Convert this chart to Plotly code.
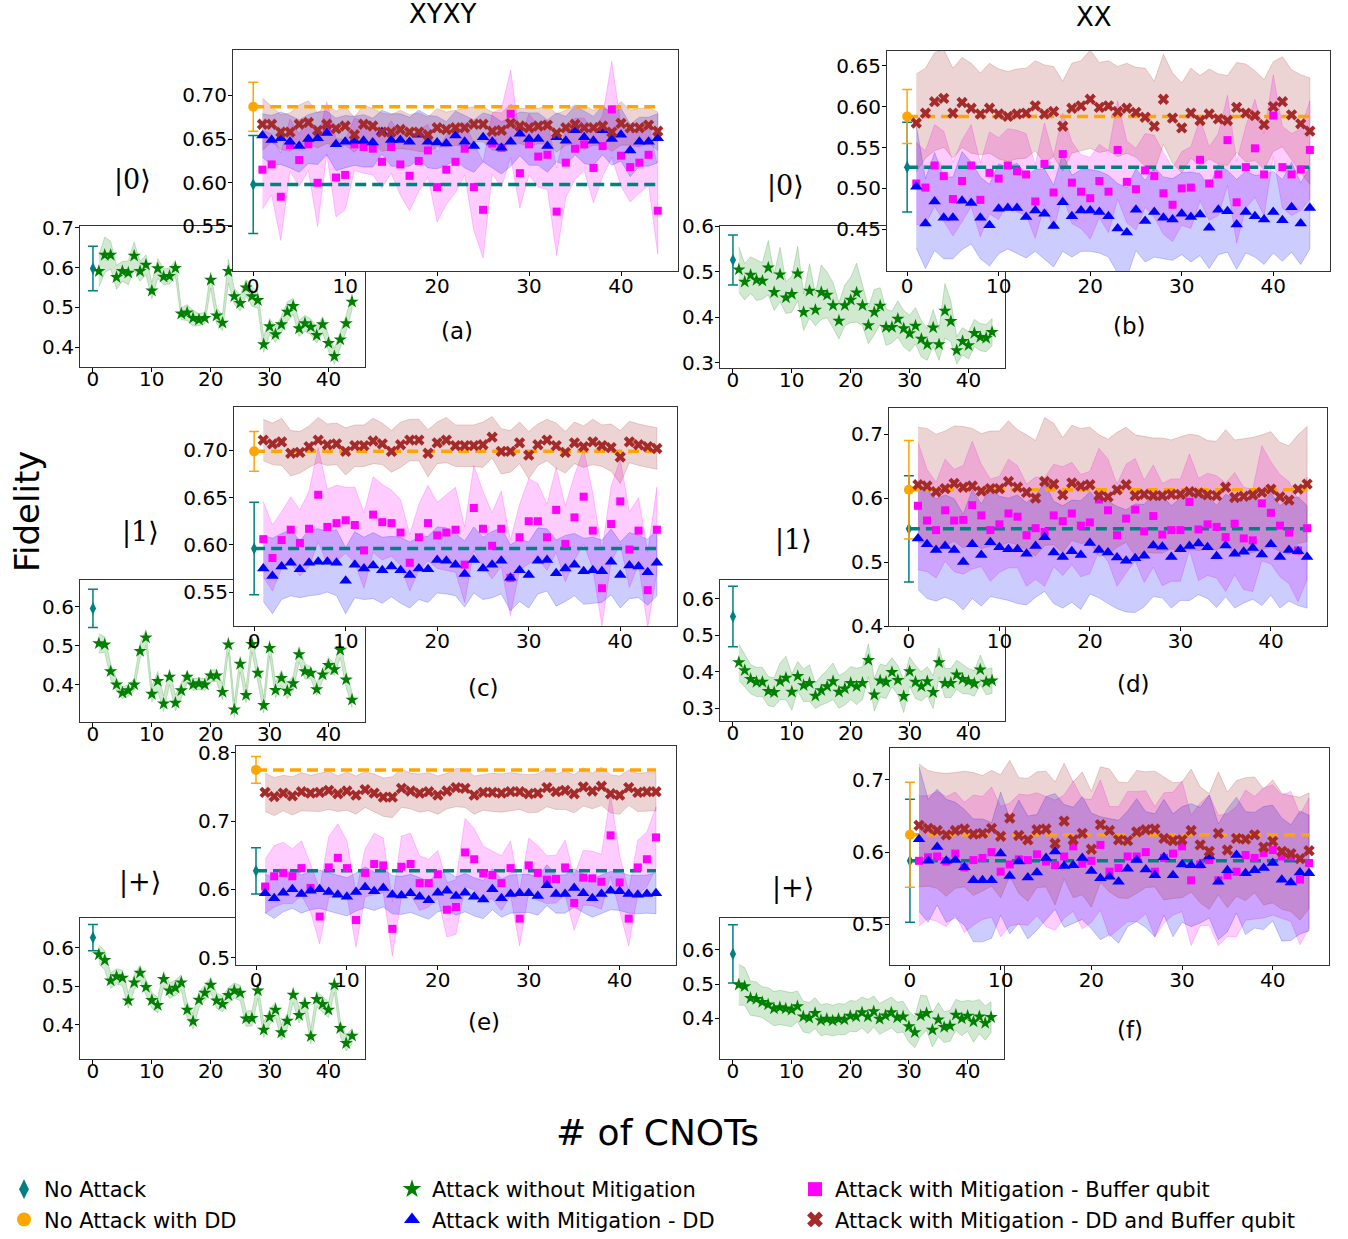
import plotly.graph_objects as go

W, H = 1348, 1239
cnots = list(range(1, 45))

# ---------------- panel (a): |0>, XYXY ----------------
a_noatk, a_noatk_err = 0.598, 0.056
a_dd, a_dd_err = 0.687, 0.028
a_green = [0.591,0.632,0.632,0.576,0.591,0.587,0.630,0.591,0.607,0.542,0.598,0.577,0.579,0.599,0.484,0.487,0.473,0.469,0.473,0.569,0.479,0.461,0.591,0.528,0.511,0.550,0.528,0.518,0.407,0.452,0.432,0.457,0.489,0.503,0.447,0.460,0.451,0.430,0.457,0.410,0.377,0.419,0.460,0.514]
a_green_std = [0.04,0.045,0.035,0.03,0.025,0.03,0.035,0.025,0.025,0.02,0.025,0.02,0.02,0.02,0.015,0.02,0.02,0.015,0.015,0.02,0.02,0.02,0.03,0.02,0.02,0.02,0.025,0.02,0.02,0.02,0.02,0.02,0.025,0.02,0.02,0.02,0.02,0.02,0.02,0.02,0.02,0.02,0.02,0.02]
a_blue = [0.654,0.649,0.651,0.647,0.642,0.650,0.651,0.657,0.644,0.647,0.648,0.648,0.646,0.658,0.649,0.649,0.647,0.655,0.647,0.646,0.645,0.654,0.647,0.642,0.652,0.647,0.640,0.647,0.656,0.650,0.650,0.642,0.652,0.648,0.660,0.652,0.648,0.660,0.650,0.655,0.637,0.647,0.647,0.651]
a_blue_std = [0.025,0.028,0.03,0.03,0.03,0.028,0.03,0.025,0.03,0.03,0.028,0.03,0.028,0.025,0.03,0.03,0.028,0.028,0.03,0.03,0.025,0.028,0.03,0.03,0.028,0.03,0.03,0.028,0.025,0.03,0.03,0.03,0.028,0.028,0.028,0.03,0.028,0.028,0.03,0.03,0.03,0.028,0.028,0.028]
a_mag = [0.615,0.621,0.584,0.643,0.626,0.644,0.600,0.663,0.606,0.609,0.644,0.641,0.639,0.624,0.641,0.621,0.608,0.625,0.637,0.595,0.615,0.624,0.639,0.595,0.569,0.645,0.640,0.679,0.611,0.644,0.630,0.632,0.567,0.623,0.639,0.644,0.617,0.642,0.684,0.631,0.618,0.623,0.632,0.568]
a_mag_std = [0.045,0.035,0.05,0.03,0.03,0.03,0.05,0.03,0.045,0.04,0.03,0.03,0.03,0.03,0.03,0.035,0.04,0.035,0.03,0.04,0.04,0.035,0.03,0.05,0.055,0.035,0.045,0.05,0.04,0.035,0.035,0.04,0.05,0.04,0.035,0.03,0.04,0.035,0.055,0.035,0.04,0.035,0.035,0.05]
a_brown = [0.667,0.667,0.658,0.658,0.667,0.669,0.660,0.667,0.662,0.665,0.655,0.667,0.665,0.658,0.658,0.661,0.658,0.658,0.655,0.663,0.661,0.663,0.663,0.667,0.667,0.659,0.660,0.668,0.665,0.663,0.665,0.666,0.657,0.663,0.667,0.663,0.663,0.665,0.658,0.668,0.663,0.663,0.666,0.659]
a_brown_std = [0.03,0.02,0.02,0.022,0.022,0.025,0.02,0.022,0.02,0.022,0.02,0.022,0.02,0.022,0.02,0.022,0.02,0.022,0.02,0.022,0.02,0.02,0.022,0.02,0.02,0.022,0.02,0.022,0.02,0.022,0.02,0.022,0.022,0.02,0.022,0.025,0.02,0.022,0.022,0.025,0.02,0.022,0.02,0.022]

# ---------------- panel (b): |0>, XX ----------------
b_noatk, b_noatk_err = 0.526, 0.055
b_dd, b_dd_err = 0.588, 0.033
b_green = [0.505,0.478,0.493,0.482,0.480,0.509,0.455,0.494,0.443,0.451,0.496,0.411,0.458,0.416,0.455,0.449,0.426,0.392,0.426,0.438,0.454,0.426,0.382,0.411,0.425,0.378,0.378,0.396,0.375,0.364,0.381,0.352,0.340,0.377,0.340,0.414,0.391,0.327,0.347,0.338,0.365,0.356,0.354,0.367]
b_green_std = [0.05,0.04,0.04,0.045,0.04,0.06,0.04,0.06,0.035,0.04,0.06,0.04,0.06,0.035,0.06,0.05,0.05,0.04,0.045,0.05,0.065,0.045,0.04,0.05,0.04,0.04,0.035,0.04,0.04,0.04,0.04,0.04,0.035,0.04,0.035,0.06,0.045,0.03,0.03,0.03,0.03,0.03,0.03,0.03]
b_blue = [0.502,0.457,0.484,0.464,0.464,0.485,0.482,0.464,0.455,0.475,0.476,0.476,0.465,0.473,0.469,0.454,0.483,0.466,0.473,0.473,0.471,0.466,0.451,0.446,0.474,0.460,0.471,0.464,0.462,0.469,0.465,0.468,0.452,0.474,0.472,0.456,0.471,0.466,0.462,0.471,0.461,0.477,0.457,0.476]
b_blue_std = [0.075,0.055,0.06,0.05,0.05,0.06,0.05,0.05,0.05,0.055,0.05,0.055,0.05,0.05,0.055,0.05,0.06,0.05,0.05,0.05,0.05,0.05,0.055,0.055,0.05,0.05,0.055,0.05,0.05,0.05,0.055,0.05,0.05,0.055,0.05,0.055,0.05,0.05,0.055,0.05,0.05,0.055,0.05,0.05]
b_mag = [0.506,0.501,0.528,0.515,0.487,0.509,0.528,0.486,0.519,0.512,0.528,0.521,0.517,0.484,0.530,0.495,0.542,0.507,0.496,0.488,0.509,0.496,0.547,0.508,0.499,0.522,0.515,0.494,0.480,0.500,0.501,0.535,0.506,0.517,0.559,0.483,0.526,0.549,0.517,0.589,0.526,0.517,0.523,0.547]
b_mag_std = [0.05,0.045,0.05,0.055,0.045,0.05,0.05,0.045,0.05,0.05,0.045,0.05,0.05,0.045,0.05,0.045,0.05,0.05,0.045,0.05,0.045,0.05,0.06,0.05,0.05,0.045,0.05,0.05,0.045,0.045,0.05,0.05,0.045,0.05,0.055,0.05,0.05,0.06,0.05,0.05,0.05,0.05,0.05,0.06]
b_brown = [0.580,0.592,0.606,0.610,0.592,0.605,0.598,0.591,0.598,0.591,0.588,0.591,0.592,0.601,0.591,0.594,0.576,0.598,0.601,0.609,0.599,0.601,0.594,0.598,0.593,0.587,0.576,0.609,0.586,0.574,0.592,0.583,0.591,0.585,0.583,0.599,0.592,0.589,0.578,0.600,0.606,0.590,0.579,0.570]
b_brown_std = [0.06,0.055,0.06,0.06,0.055,0.055,0.055,0.05,0.055,0.055,0.055,0.055,0.055,0.055,0.06,0.055,0.055,0.055,0.055,0.06,0.055,0.055,0.055,0.055,0.055,0.06,0.055,0.055,0.055,0.055,0.055,0.055,0.055,0.055,0.055,0.055,0.06,0.055,0.055,0.055,0.055,0.055,0.06,0.065]

# ---------------- panel (c): |1>, XYXY ----------------
c_noatk, c_noatk_err = 0.596, 0.049
c_dd, c_dd_err = 0.699, 0.021
c_green = [0.506,0.503,0.434,0.400,0.379,0.385,0.400,0.486,0.521,0.376,0.409,0.351,0.420,0.353,0.385,0.420,0.400,0.403,0.400,0.423,0.423,0.381,0.503,0.336,0.453,0.373,0.504,0.430,0.347,0.494,0.386,0.417,0.384,0.403,0.478,0.434,0.430,0.388,0.426,0.450,0.439,0.489,0.413,0.361]
c_green_std = [0.025,0.02,0.02,0.015,0.015,0.015,0.015,0.02,0.02,0.02,0.025,0.02,0.02,0.02,0.02,0.015,0.015,0.015,0.015,0.015,0.015,0.02,0.02,0.02,0.02,0.02,0.02,0.02,0.02,0.02,0.02,0.02,0.02,0.02,0.02,0.02,0.015,0.015,0.015,0.02,0.015,0.02,0.02,0.02]
c_blue = [0.575,0.567,0.577,0.581,0.574,0.581,0.582,0.582,0.581,0.562,0.579,0.575,0.578,0.573,0.577,0.573,0.568,0.575,0.574,0.584,0.583,0.579,0.569,0.584,0.575,0.579,0.583,0.565,0.573,0.568,0.583,0.584,0.570,0.575,0.579,0.572,0.573,0.572,0.582,0.568,0.578,0.577,0.571,0.581]
c_blue_std = [0.035,0.04,0.035,0.035,0.03,0.035,0.035,0.032,0.035,0.035,0.035,0.033,0.035,0.035,0.032,0.035,0.035,0.033,0.035,0.035,0.035,0.033,0.035,0.035,0.033,0.035,0.035,0.035,0.033,0.035,0.035,0.033,0.035,0.035,0.033,0.035,0.035,0.033,0.035,0.035,0.035,0.033,0.035,0.035]
c_mag = [0.606,0.586,0.605,0.616,0.602,0.617,0.653,0.619,0.623,0.626,0.621,0.594,0.632,0.624,0.623,0.613,0.581,0.608,0.623,0.610,0.613,0.616,0.579,0.639,0.617,0.599,0.617,0.565,0.608,0.625,0.625,0.608,0.637,0.601,0.629,0.651,0.615,0.554,0.622,0.646,0.595,0.615,0.552,0.616]
c_mag_std = [0.04,0.035,0.03,0.035,0.035,0.04,0.05,0.04,0.04,0.035,0.04,0.04,0.04,0.04,0.035,0.035,0.03,0.035,0.04,0.035,0.04,0.045,0.04,0.045,0.04,0.035,0.04,0.04,0.035,0.045,0.04,0.035,0.045,0.04,0.045,0.05,0.04,0.04,0.04,0.045,0.04,0.035,0.04,0.045]
c_brown = [0.711,0.707,0.709,0.697,0.698,0.704,0.711,0.706,0.707,0.699,0.705,0.705,0.710,0.707,0.699,0.706,0.711,0.711,0.697,0.708,0.711,0.705,0.705,0.705,0.706,0.714,0.699,0.699,0.708,0.695,0.706,0.711,0.705,0.698,0.708,0.704,0.709,0.705,0.703,0.693,0.709,0.706,0.704,0.702]
c_brown_std = [0.022,0.022,0.025,0.024,0.022,0.022,0.024,0.022,0.022,0.025,0.022,0.022,0.024,0.022,0.022,0.024,0.022,0.022,0.025,0.022,0.024,0.022,0.022,0.022,0.024,0.022,0.024,0.022,0.022,0.025,0.022,0.022,0.024,0.022,0.022,0.022,0.024,0.022,0.025,0.028,0.022,0.022,0.022,0.022]

# ---------------- panel (d): |1>, XX ----------------
d_noatk, d_noatk_err = 0.552, 0.083
d_dd, d_dd_err = 0.613, 0.077
d_green = [0.426,0.404,0.380,0.372,0.372,0.347,0.344,0.374,0.383,0.345,0.388,0.363,0.369,0.334,0.349,0.360,0.374,0.345,0.354,0.369,0.360,0.369,0.432,0.337,0.376,0.372,0.399,0.377,0.333,0.401,0.372,0.360,0.374,0.344,0.426,0.369,0.369,0.392,0.380,0.374,0.368,0.406,0.372,0.376]
d_green_std = [0.05,0.045,0.04,0.04,0.04,0.04,0.04,0.05,0.06,0.05,0.04,0.045,0.05,0.035,0.04,0.045,0.05,0.045,0.045,0.045,0.05,0.045,0.045,0.045,0.045,0.045,0.04,0.04,0.045,0.04,0.045,0.04,0.04,0.045,0.04,0.04,0.04,0.04,0.04,0.035,0.035,0.04,0.035,0.035]
d_blue = [0.537,0.528,0.519,0.525,0.519,0.500,0.528,0.511,0.531,0.523,0.520,0.520,0.513,0.525,0.539,0.515,0.508,0.517,0.511,0.530,0.519,0.515,0.507,0.502,0.506,0.510,0.526,0.524,0.508,0.520,0.525,0.529,0.523,0.509,0.526,0.513,0.516,0.522,0.512,0.528,0.508,0.519,0.517,0.508]
d_blue_std = [0.08,0.085,0.08,0.08,0.08,0.075,0.085,0.08,0.085,0.08,0.08,0.085,0.08,0.08,0.085,0.08,0.08,0.08,0.085,0.08,0.075,0.08,0.08,0.08,0.085,0.08,0.08,0.08,0.08,0.08,0.085,0.08,0.08,0.08,0.08,0.085,0.08,0.08,0.08,0.08,0.08,0.08,0.085,0.08]
d_mag = [0.588,0.565,0.550,0.581,0.565,0.566,0.589,0.573,0.550,0.559,0.576,0.571,0.542,0.553,0.547,0.573,0.564,0.576,0.557,0.562,0.598,0.581,0.542,0.568,0.582,0.548,0.572,0.543,0.550,0.550,0.594,0.551,0.559,0.555,0.539,0.560,0.537,0.534,0.592,0.577,0.557,0.546,0.518,0.553]
d_mag_std = [0.1,0.08,0.075,0.08,0.08,0.085,0.1,0.08,0.08,0.075,0.085,0.08,0.08,0.08,0.085,0.08,0.085,0.08,0.08,0.08,0.08,0.08,0.08,0.085,0.08,0.08,0.08,0.08,0.08,0.08,0.075,0.08,0.08,0.08,0.085,0.08,0.08,0.08,0.09,0.08,0.08,0.08,0.08,0.08]
d_brown = [0.621,0.619,0.610,0.615,0.623,0.617,0.619,0.611,0.615,0.615,0.626,0.617,0.609,0.600,0.626,0.622,0.605,0.624,0.619,0.621,0.604,0.602,0.613,0.621,0.604,0.606,0.604,0.604,0.606,0.606,0.610,0.608,0.605,0.604,0.617,0.601,0.603,0.605,0.609,0.614,0.602,0.597,0.614,0.622]
d_brown_std = [0.09,0.09,0.09,0.09,0.09,0.095,0.09,0.09,0.09,0.09,0.095,0.09,0.09,0.09,0.1,0.095,0.09,0.09,0.09,0.09,0.095,0.09,0.09,0.09,0.095,0.09,0.09,0.09,0.085,0.09,0.09,0.09,0.085,0.085,0.09,0.09,0.09,0.09,0.09,0.09,0.085,0.085,0.085,0.09]

# ---------------- panel (e): |+>, XYXY ----------------
e_noatk, e_noatk_err = 0.627, 0.034
e_dd, e_dd_err = 0.775, 0.0195
e_green = [0.583,0.568,0.515,0.526,0.522,0.463,0.510,0.535,0.498,0.464,0.451,0.519,0.489,0.496,0.510,0.439,0.409,0.465,0.483,0.504,0.463,0.454,0.477,0.489,0.483,0.416,0.417,0.489,0.387,0.420,0.439,0.380,0.410,0.478,0.425,0.454,0.370,0.467,0.454,0.439,0.504,0.391,0.352,0.371]
e_green_std = [0.025,0.025,0.02,0.02,0.02,0.02,0.02,0.02,0.02,0.02,0.02,0.02,0.02,0.02,0.02,0.02,0.02,0.02,0.02,0.02,0.02,0.02,0.02,0.02,0.02,0.02,0.02,0.02,0.02,0.02,0.02,0.02,0.02,0.02,0.02,0.02,0.02,0.02,0.02,0.02,0.02,0.02,0.02,0.02]
e_blue = [0.594,0.587,0.595,0.600,0.593,0.598,0.600,0.596,0.592,0.589,0.596,0.603,0.597,0.602,0.592,0.591,0.594,0.589,0.584,0.595,0.598,0.590,0.595,0.589,0.585,0.600,0.587,0.593,0.594,0.594,0.590,0.606,0.593,0.593,0.602,0.594,0.587,0.593,0.598,0.597,0.593,0.592,0.593,0.594]
e_blue_std = [0.028,0.03,0.028,0.028,0.028,0.028,0.028,0.028,0.028,0.028,0.028,0.03,0.028,0.028,0.028,0.028,0.028,0.028,0.028,0.028,0.028,0.028,0.028,0.028,0.028,0.03,0.028,0.028,0.028,0.028,0.028,0.03,0.028,0.028,0.028,0.028,0.028,0.028,0.028,0.028,0.028,0.028,0.028,0.03]
e_mag = [0.604,0.619,0.624,0.619,0.631,0.602,0.560,0.632,0.646,0.631,0.555,0.624,0.637,0.635,0.542,0.633,0.637,0.609,0.609,0.622,0.570,0.574,0.654,0.644,0.623,0.621,0.609,0.631,0.557,0.635,0.624,0.614,0.615,0.632,0.580,0.617,0.616,0.611,0.679,0.610,0.557,0.632,0.644,0.676]
e_mag_std = [0.04,0.045,0.045,0.04,0.04,0.035,0.04,0.045,0.05,0.04,0.04,0.035,0.045,0.04,0.04,0.045,0.045,0.04,0.035,0.035,0.04,0.04,0.05,0.045,0.04,0.035,0.04,0.04,0.04,0.04,0.04,0.035,0.035,0.04,0.04,0.04,0.04,0.04,0.06,0.04,0.04,0.04,0.04,0.045]
e_brown = [0.742,0.736,0.741,0.737,0.743,0.741,0.742,0.745,0.740,0.744,0.738,0.746,0.741,0.735,0.735,0.748,0.744,0.741,0.743,0.738,0.744,0.749,0.748,0.738,0.742,0.742,0.741,0.743,0.743,0.740,0.741,0.749,0.743,0.745,0.740,0.750,0.744,0.751,0.740,0.738,0.749,0.742,0.743,0.743]
e_brown_std = [0.028,0.028,0.026,0.028,0.028,0.026,0.028,0.028,0.026,0.028,0.028,0.026,0.028,0.028,0.03,0.028,0.026,0.028,0.028,0.028,0.026,0.028,0.028,0.028,0.026,0.028,0.028,0.028,0.026,0.028,0.028,0.028,0.026,0.028,0.028,0.028,0.026,0.028,0.028,0.028,0.026,0.028,0.028,0.028]

# ---------------- panel (f): |+>, XX ----------------
f_noatk, f_noatk_err = 0.588, 0.085
f_dd, f_dd_err = 0.624, 0.0725
f_green = [0.498,0.493,0.459,0.456,0.447,0.440,0.428,0.432,0.428,0.425,0.435,0.405,0.401,0.415,0.394,0.398,0.393,0.398,0.396,0.407,0.405,0.417,0.405,0.420,0.398,0.408,0.417,0.402,0.405,0.376,0.359,0.408,0.415,0.366,0.396,0.374,0.378,0.410,0.399,0.407,0.390,0.405,0.386,0.403]
f_green_std = [0.06,0.055,0.05,0.05,0.045,0.05,0.05,0.05,0.05,0.05,0.045,0.045,0.045,0.045,0.045,0.045,0.045,0.045,0.045,0.045,0.045,0.045,0.05,0.045,0.045,0.045,0.045,0.045,0.045,0.045,0.045,0.06,0.05,0.05,0.05,0.045,0.045,0.045,0.05,0.045,0.06,0.05,0.05,0.045]
f_blue = [0.618,0.588,0.607,0.588,0.589,0.579,0.561,0.561,0.561,0.598,0.567,0.587,0.565,0.572,0.592,0.601,0.581,0.582,0.592,0.574,0.564,0.566,0.559,0.577,0.589,0.576,0.568,0.593,0.568,0.583,0.582,0.582,0.594,0.559,0.575,0.596,0.571,0.575,0.578,0.585,0.562,0.558,0.572,0.571]
f_blue_std = [0.1,0.085,0.08,0.085,0.08,0.08,0.085,0.085,0.08,0.085,0.08,0.085,0.085,0.08,0.085,0.08,0.085,0.08,0.085,0.08,0.085,0.08,0.085,0.08,0.085,0.08,0.085,0.08,0.085,0.08,0.085,0.08,0.085,0.08,0.085,0.08,0.085,0.08,0.085,0.08,0.085,0.08,0.085,0.08]
f_mag = [0.588,0.593,0.594,0.587,0.598,0.579,0.589,0.592,0.600,0.573,0.583,0.590,0.589,0.597,0.587,0.582,0.594,0.608,0.584,0.588,0.610,0.573,0.578,0.594,0.594,0.600,0.573,0.592,0.598,0.608,0.561,0.583,0.589,0.561,0.568,0.573,0.596,0.592,0.599,0.603,0.594,0.594,0.562,0.585]
f_mag_std = [0.09,0.085,0.09,0.09,0.085,0.09,0.09,0.085,0.09,0.09,0.085,0.09,0.09,0.085,0.09,0.09,0.085,0.09,0.09,0.085,0.09,0.09,0.085,0.09,0.09,0.085,0.09,0.09,0.085,0.09,0.09,0.085,0.09,0.09,0.085,0.09,0.09,0.085,0.09,0.09,0.085,0.09,0.09,0.09]
f_brown = [0.637,0.633,0.630,0.624,0.630,0.632,0.625,0.626,0.633,0.622,0.647,0.623,0.617,0.631,0.632,0.612,0.643,0.617,0.626,0.604,0.638,0.630,0.617,0.616,0.628,0.631,0.632,0.619,0.616,0.617,0.630,0.610,0.601,0.626,0.603,0.619,0.618,0.624,0.607,0.615,0.601,0.598,0.591,0.602]
f_brown_std = [0.085,0.08,0.08,0.085,0.08,0.08,0.085,0.08,0.08,0.085,0.08,0.08,0.085,0.08,0.08,0.085,0.08,0.08,0.085,0.08,0.08,0.085,0.08,0.08,0.085,0.08,0.08,0.085,0.08,0.08,0.085,0.08,0.08,0.085,0.08,0.08,0.085,0.08,0.08,0.085,0.08,0.08,0.085,0.08]

# y ticks of each axis
a_small_ticks, a_big_ticks = [0.4, 0.5, 0.6, 0.7], [0.55, 0.60, 0.65, 0.70]
b_small_ticks, b_big_ticks = [0.3, 0.4, 0.5, 0.6], [0.45, 0.50, 0.55, 0.60, 0.65]
c_small_ticks, c_big_ticks = [0.4, 0.5, 0.6], [0.55, 0.60, 0.65, 0.70]
d_small_ticks, d_big_ticks = [0.3, 0.4, 0.5, 0.6], [0.4, 0.5, 0.6, 0.7]
e_small_ticks, e_big_ticks = [0.4, 0.5, 0.6], [0.5, 0.6, 0.7, 0.8]
f_small_ticks, f_big_ticks = [0.4, 0.5, 0.6], [0.5, 0.6, 0.7]
x_ticks = [0, 10, 20, 30, 40]

panel_labels = ["(a)", "(b)", "(c)", "(d)", "(e)", "(f)"]
ket_labels = ["|0⟩", "|0⟩", "|1⟩", "|1⟩", "|+⟩", "|+⟩"]
col_titles = ["XYXY", "XX"]

legend_names = ["No Attack", "No Attack with DD",
                "Attack without Mitigation", "Attack with Mitigation - DD",
                "Attack with Mitigation - Buffer qubit", "Attack with Mitigation - DD and Buffer qubit"]

# ---------------- styling / layout (pixels) ----------------
TEAL, ORANGE, GREEN, BLUE, MAG, BROWN = "#008080", "#ffa500", "#008000", "#0000ff", "#ff00ff", "#a52a2a"
BANDS = {GREEN: "rgba(0,128,0,0.18)", BLUE: "rgba(0,0,255,0.2)", MAG: "rgba(255,0,255,0.2)", BROWN: "rgba(165,42,42,0.2)"}
EDGES = {GREEN: "rgba(0,128,0,0.25)", BLUE: "rgba(0,0,255,0.25)", MAG: "rgba(255,0,255,0.25)", BROWN: "rgba(165,42,42,0.25)"}
FONT = "DejaVu Sans"

# (left, top, right, bottom) pixel boxes and y ranges
layout_spec = [
    dict(small=(80, 226, 365, 367), srange=(0.35, 0.705), big=(233, 50, 678, 271), brange=(0.499, 0.752),
         ylab=".1f", bylab=".2f", label=(457, 331), ket=(132, 180)),
    dict(small=(720, 226, 1005, 368), srange=(0.288, 0.601), big=(887, 51, 1330, 271), brange=(0.399, 0.668),
         ylab=".1f", bylab=".2f", label=(1129, 326), ket=(785, 186)),
    dict(small=(80, 580, 365, 722), srange=(0.304, 0.669), big=(234, 407, 677, 626), brange=(0.514, 0.746),
         ylab=".1f", bylab=".2f", label=(483, 688), ket=(140, 532)),
    dict(small=(720, 580, 1005, 721), srange=(0.265, 0.652), big=(889, 408, 1327, 626), brange=(0.40, 0.741),
         ylab=".1f", bylab=".1f", label=(1133, 684), ket=(793, 540)),
    dict(small=(80, 918, 365, 1059), srange=(0.311, 0.678), big=(236, 746, 676, 965), brange=(0.489, 0.81),
         ylab=".1f", bylab=".1f", label=(484, 1022), ket=(140, 882)),
    dict(small=(720, 918, 1004, 1059), srange=(0.281, 0.693), big=(890, 748, 1329, 965), brange=(0.444, 0.744),
         ylab=".1f", bylab=".1f", label=(1130, 1030), ket=(793, 888)),
]

panels = [
    (a_noatk, a_noatk_err, a_dd, a_dd_err, a_green, a_green_std, a_mag, a_mag_std, a_blue, a_blue_std, a_brown, a_brown_std, a_small_ticks, a_big_ticks),
    (b_noatk, b_noatk_err, b_dd, b_dd_err, b_green, b_green_std, b_mag, b_mag_std, b_blue, b_blue_std, b_brown, b_brown_std, b_small_ticks, b_big_ticks),
    (c_noatk, c_noatk_err, c_dd, c_dd_err, c_green, c_green_std, c_mag, c_mag_std, c_blue, c_blue_std, c_brown, c_brown_std, c_small_ticks, c_big_ticks),
    (d_noatk, d_noatk_err, d_dd, d_dd_err, d_green, d_green_std, d_mag, d_mag_std, d_blue, d_blue_std, d_brown, d_brown_std, d_small_ticks, d_big_ticks),
    (e_noatk, e_noatk_err, e_dd, e_dd_err, e_green, e_green_std, e_mag, e_mag_std, e_blue, e_blue_std, e_brown, e_brown_std, e_small_ticks, e_big_ticks),
    (f_noatk, f_noatk_err, f_dd, f_dd_err, f_green, f_green_std, f_mag, f_mag_std, f_blue, f_blue_std, f_brown, f_brown_std, f_small_ticks, f_big_ticks),
]

fig = go.Figure()


def dom(box):
    l, t, r, b = box
    return [l / W, r / W], [1 - b / H, 1 - t / H]


def band(vals, std, color, xa, ya):
    xs = cnots[:len(vals)]
    up = [v + s for v, s in zip(vals, std)]
    lo = [v - s for v, s in zip(vals, std)]
    fig.add_trace(go.Scatter(x=xs + xs[::-1], y=up + lo[::-1], fill="toself", fillcolor=BANDS[color],
                             line=dict(color=EDGES[color], width=0.8), mode="lines",
                             hoverinfo="skip", showlegend=False, xaxis=xa, yaxis=ya))


def pts(vals, color, symbol, size, xa, ya):
    fig.add_trace(go.Scatter(x=cnots[:len(vals)], y=vals, mode="markers",
                             marker=dict(color=color, symbol=symbol, size=size, line=dict(width=0)),
                             showlegend=False, xaxis=xa, yaxis=ya))


def ref_point(val, err, color, symbol, size, xa, ya, dashed):
    if dashed:
        fig.add_trace(go.Scatter(x=[0, cnots[-1]], y=[val, val], mode="lines",
                                 line=dict(color=color, width=3.5, dash="11px,6px"),
                                 showlegend=False, hoverinfo="skip", xaxis=xa, yaxis=ya))
    fig.add_trace(go.Scatter(x=[0], y=[val], mode="markers",
                             marker=dict(color=color, symbol=symbol, size=size),
                             error_y=dict(type="data", array=[err], color=color, thickness=1.5, width=5),
                             showlegend=False, xaxis=xa, yaxis=ya))


axis_common = dict(showline=True, mirror=True, linecolor="#333", linewidth=1.2, ticks="outside",
                   ticklen=4, tickwidth=1, tickcolor="#000", showgrid=False, zeroline=False, automargin=False,
                   tickfont=dict(family=FONT, size=20, color="#000"))

for i, (spec, p) in enumerate(zip(layout_spec, panels)):
    (noatk, noatk_err, dd, dd_err, green, green_std, mag, mag_std, blue, blue_std,
     brown, brown_std, sticks, bticks) = p
    ns, nb = 2 * i + 1, 2 * i + 2
    xs_id = "x" if ns == 1 else f"x{ns}"
    ys_id = "y" if ns == 1 else f"y{ns}"
    xb_id, yb_id = f"x{nb}", f"y{nb}"

    # small inset: attack without mitigation
    band(green, green_std, GREEN, xs_id, ys_id)
    ref_point(noatk, noatk_err, TEAL, "diamond-tall", 9, xs_id, ys_id, dashed=False)
    pts(green, GREEN, "star", 10, xs_id, ys_id)

    # large plot: mitigations
    band(mag, mag_std, MAG, xb_id, yb_id)
    band(blue, blue_std, BLUE, xb_id, yb_id)
    band(brown, brown_std, BROWN, xb_id, yb_id)
    ref_point(noatk, noatk_err, TEAL, "diamond-tall", 9, xb_id, yb_id, dashed=True)
    ref_point(dd, dd_err, ORANGE, "circle", 10, xb_id, yb_id, dashed=True)
    pts(mag, MAG, "square", 8, xb_id, yb_id)
    pts(blue, BLUE, "triangle-up", 11, xb_id, yb_id)
    pts(brown, BROWN, "x", 10, xb_id, yb_id)

    sx, sy = dom(spec["small"])
    bx, by = dom(spec["big"])
    xs_key = "xaxis" if ns == 1 else f"xaxis{ns}"
    ys_key = "yaxis" if ns == 1 else f"yaxis{ns}"
    fig.layout[xs_key] = dict(domain=sx, range=[-2.2, 46.2], anchor=ys_id, tickvals=x_ticks,
                              ticklabelstandoff=-10, **axis_common)
    fig.layout[ys_key] = dict(domain=sy, range=list(spec["srange"]), anchor=xs_id, tickvals=sticks,
                              ticktext=[format(t, spec["ylab"]) for t in sticks], ticklabelstandoff=-3,
                              **axis_common)
    fig.layout[f"xaxis{nb}"] = dict(domain=bx, range=[-2.2, 46.2], anchor=yb_id, tickvals=x_ticks,
                                    ticklabelstandoff=-7, **axis_common)
    fig.layout[f"yaxis{nb}"] = dict(domain=by, range=list(spec["brange"]), anchor=xb_id, tickvals=bticks,
                                    ticktext=[format(t, spec["bylab"]) for t in bticks], ticklabelstandoff=-3,
                                    **axis_common)

    lx, ly = spec["label"]
    fig.add_annotation(x=lx / W, y=1 - ly / H, xref="paper", yref="paper", text=panel_labels[i],
                       xanchor="center", yanchor="middle",
                       showarrow=False, font=dict(family=FONT, size=23, color="#000"))
    kx, ky = spec["ket"]
    fig.add_annotation(x=kx / W, y=1 - ky / H, xref="paper", yref="paper", text=ket_labels[i],
                       xanchor="center", yanchor="middle",
                       showarrow=False, font=dict(family="DejaVu Serif", size=27, color="#000"))

# column titles and axis titles
fig.add_annotation(x=443 / W, y=1 - 14 / H, xref="paper", yref="paper", text=col_titles[0], showarrow=False,
                   xanchor="center", yanchor="middle", font=dict(family=FONT, size=26, color="#000"))
fig.add_annotation(x=1094 / W, y=1 - 17 / H, xref="paper", yref="paper", text=col_titles[1], showarrow=False,
                   xanchor="center", yanchor="middle", font=dict(family=FONT, size=26, color="#000"))
fig.add_annotation(x=27 / W, y=1 - 512 / H, xref="paper", yref="paper", text="Fidelity", showarrow=False,
                   xanchor="center", yanchor="middle", textangle=-90, font=dict(family=FONT, size=34, color="#000"))
fig.add_annotation(x=657 / W, y=1 - 1132 / H, xref="paper", yref="paper", text="# of CNOTs", showarrow=False,
                   xanchor="center", yanchor="middle", font=dict(family=FONT, size=36, color="#000"))

# legend entries: three columns of two entries
leg_styles = [(TEAL, "diamond-tall"), (ORANGE, "circle"),
              (GREEN, "star"), (BLUE, "triangle-up"),
              (MAG, "square"), (BROWN, "x")]
leg_ids = ["legend", "legend", "legend2", "legend2", "legend3", "legend3"]
for name, (col, sym), lid in zip(legend_names, leg_styles, leg_ids):
    fig.add_trace(go.Scatter(x=[None], y=[None], mode="markers", name=name, legend=lid,
                             marker=dict(color=col, symbol=sym, size=14), xaxis="x", yaxis="y"))

leg_common = dict(orientation="v", xanchor="left", y=1 - 1169 / H, yanchor="top",
                  font=dict(family=FONT, size=21, color="#000"), bgcolor="rgba(0,0,0,0)",
                  itemclick=False, tracegroupgap=0)

fig.update_layout(
    width=W, height=H, margin=dict(l=0, r=0, t=0, b=0, autoexpand=False),
    paper_bgcolor="white", plot_bgcolor="white",
    font=dict(family=FONT, color="#000"),
    legend=dict(x=4 / W, **leg_common),
    legend2=dict(x=392 / W, **leg_common),
    legend3=dict(x=795 / W, **leg_common),
)

fig.write_html("out.html")
